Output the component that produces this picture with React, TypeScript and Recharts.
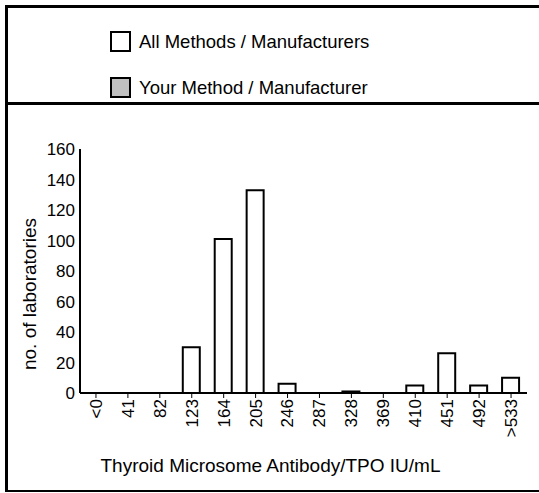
import { BarChart, Bar, XAxis, YAxis } from "recharts";

const categories = ["<0", "41", "82", "123", "164", "205", "246", "287", "328", "369", "410", "451", "492", ">533"];
const allMethods = [0, 0, 0, 30, 101, 133, 6, 0, 1, 0, 5, 26, 5, 10];
const yTicks = [0, 20, 40, 60, 80, 100, 120, 140, 160];

const legendItems = [
  { label: "All Methods / Manufacturers", fill: "#ffffff" },
  { label: "Your Method / Manufacturer", fill: "#c0c0c0" },
];

const FONT = "'Liberation Sans', Arial, sans-serif";

const data = categories.map((c, i) => ({ name: c, all: allMethods[i] }));

// rotated category labels, reading bottom-to-top, hanging off the tick
const XTick = (props: any) => {
  const { x, y, payload } = props;
  return (
    <text
      x={x}
      y={y}
      transform={`rotate(-90 ${x} ${y})`}
      textAnchor="end"
      dy="0.35em"
      fontSize={17}
      fontFamily={FONT}
      fill="#000"
    >
      {payload.value}
    </text>
  );
};

export default function App() {
  return (
    <div
      style={{
        position: "absolute",
        left: 5,
        top: 5,
        width: 534,
        height: 487,
        boxSizing: "border-box",
        borderTop: "3px solid #000",
        borderLeft: "3px solid #000",
        borderBottom: "2px solid #000",
        background: "#fff",
        fontFamily: FONT,
      }}
    >
      <div
        style={{
          position: "relative",
          height: 94,
          borderBottom: "3px solid #000",
        }}
      >
        {legendItems.map((item, i) => (
          <div
            key={item.label}
            style={{
              position: "absolute",
              left: 102,
              top: 23 + i * 46,
              display: "flex",
              alignItems: "center",
              height: 21,
            }}
          >
            <div
              style={{
                width: 17,
                height: 17,
                border: "2px solid #000",
                background: item.fill,
              }}
            />
            <span style={{ marginLeft: 8, fontSize: 18.5, color: "#000" }}>{item.label}</span>
          </div>
        ))}
      </div>
      <BarChart
        width={531}
        height={385}
        data={data}
        margin={{ top: 44, right: 12, bottom: 0, left: 0 }}
        barSize={17}
      >
        <XAxis
          dataKey="name"
          interval={0}
          height={97}
          tickSize={5}
          tickMargin={1}
          axisLine={{ stroke: "#000", strokeWidth: 2 }}
          tickLine={{ stroke: "#000", strokeWidth: 1 }}
          tick={<XTick />}
          label={(p: any) => {
            const vb = p.viewBox;
            return (
              <text
                x={vb.x + vb.width / 2 - 33}
                y={vb.y + 72}
                textAnchor="middle"
                dominantBaseline="central"
                fontSize={19}
                fontFamily={FONT}
                fill="#000"
              >
                Thyroid Microsome Antibody/TPO IU/mL
              </text>
            );
          }}
        />
        <YAxis
          domain={[0, 160]}
          ticks={yTicks}
          width={72}
          tickSize={3}
          tickMargin={2}
          tickLine={false}
          axisLine={{ stroke: "#000", strokeWidth: 2 }}
          tick={{ fill: "#000", fontSize: 17, fontFamily: FONT }}
          label={() => (
            <text
              x={21}
              y={189}
              transform="rotate(-90 21 189)"
              textAnchor="middle"
              dominantBaseline="central"
              fontSize={19}
              fontFamily={FONT}
              fill="#000"
            >
              no. of laboratories
            </text>
          )}
        />
        <Bar dataKey="all" fill="#fff" stroke="#000" strokeWidth={2} isAnimationActive={false} />
      </BarChart>
    </div>
  );
}
